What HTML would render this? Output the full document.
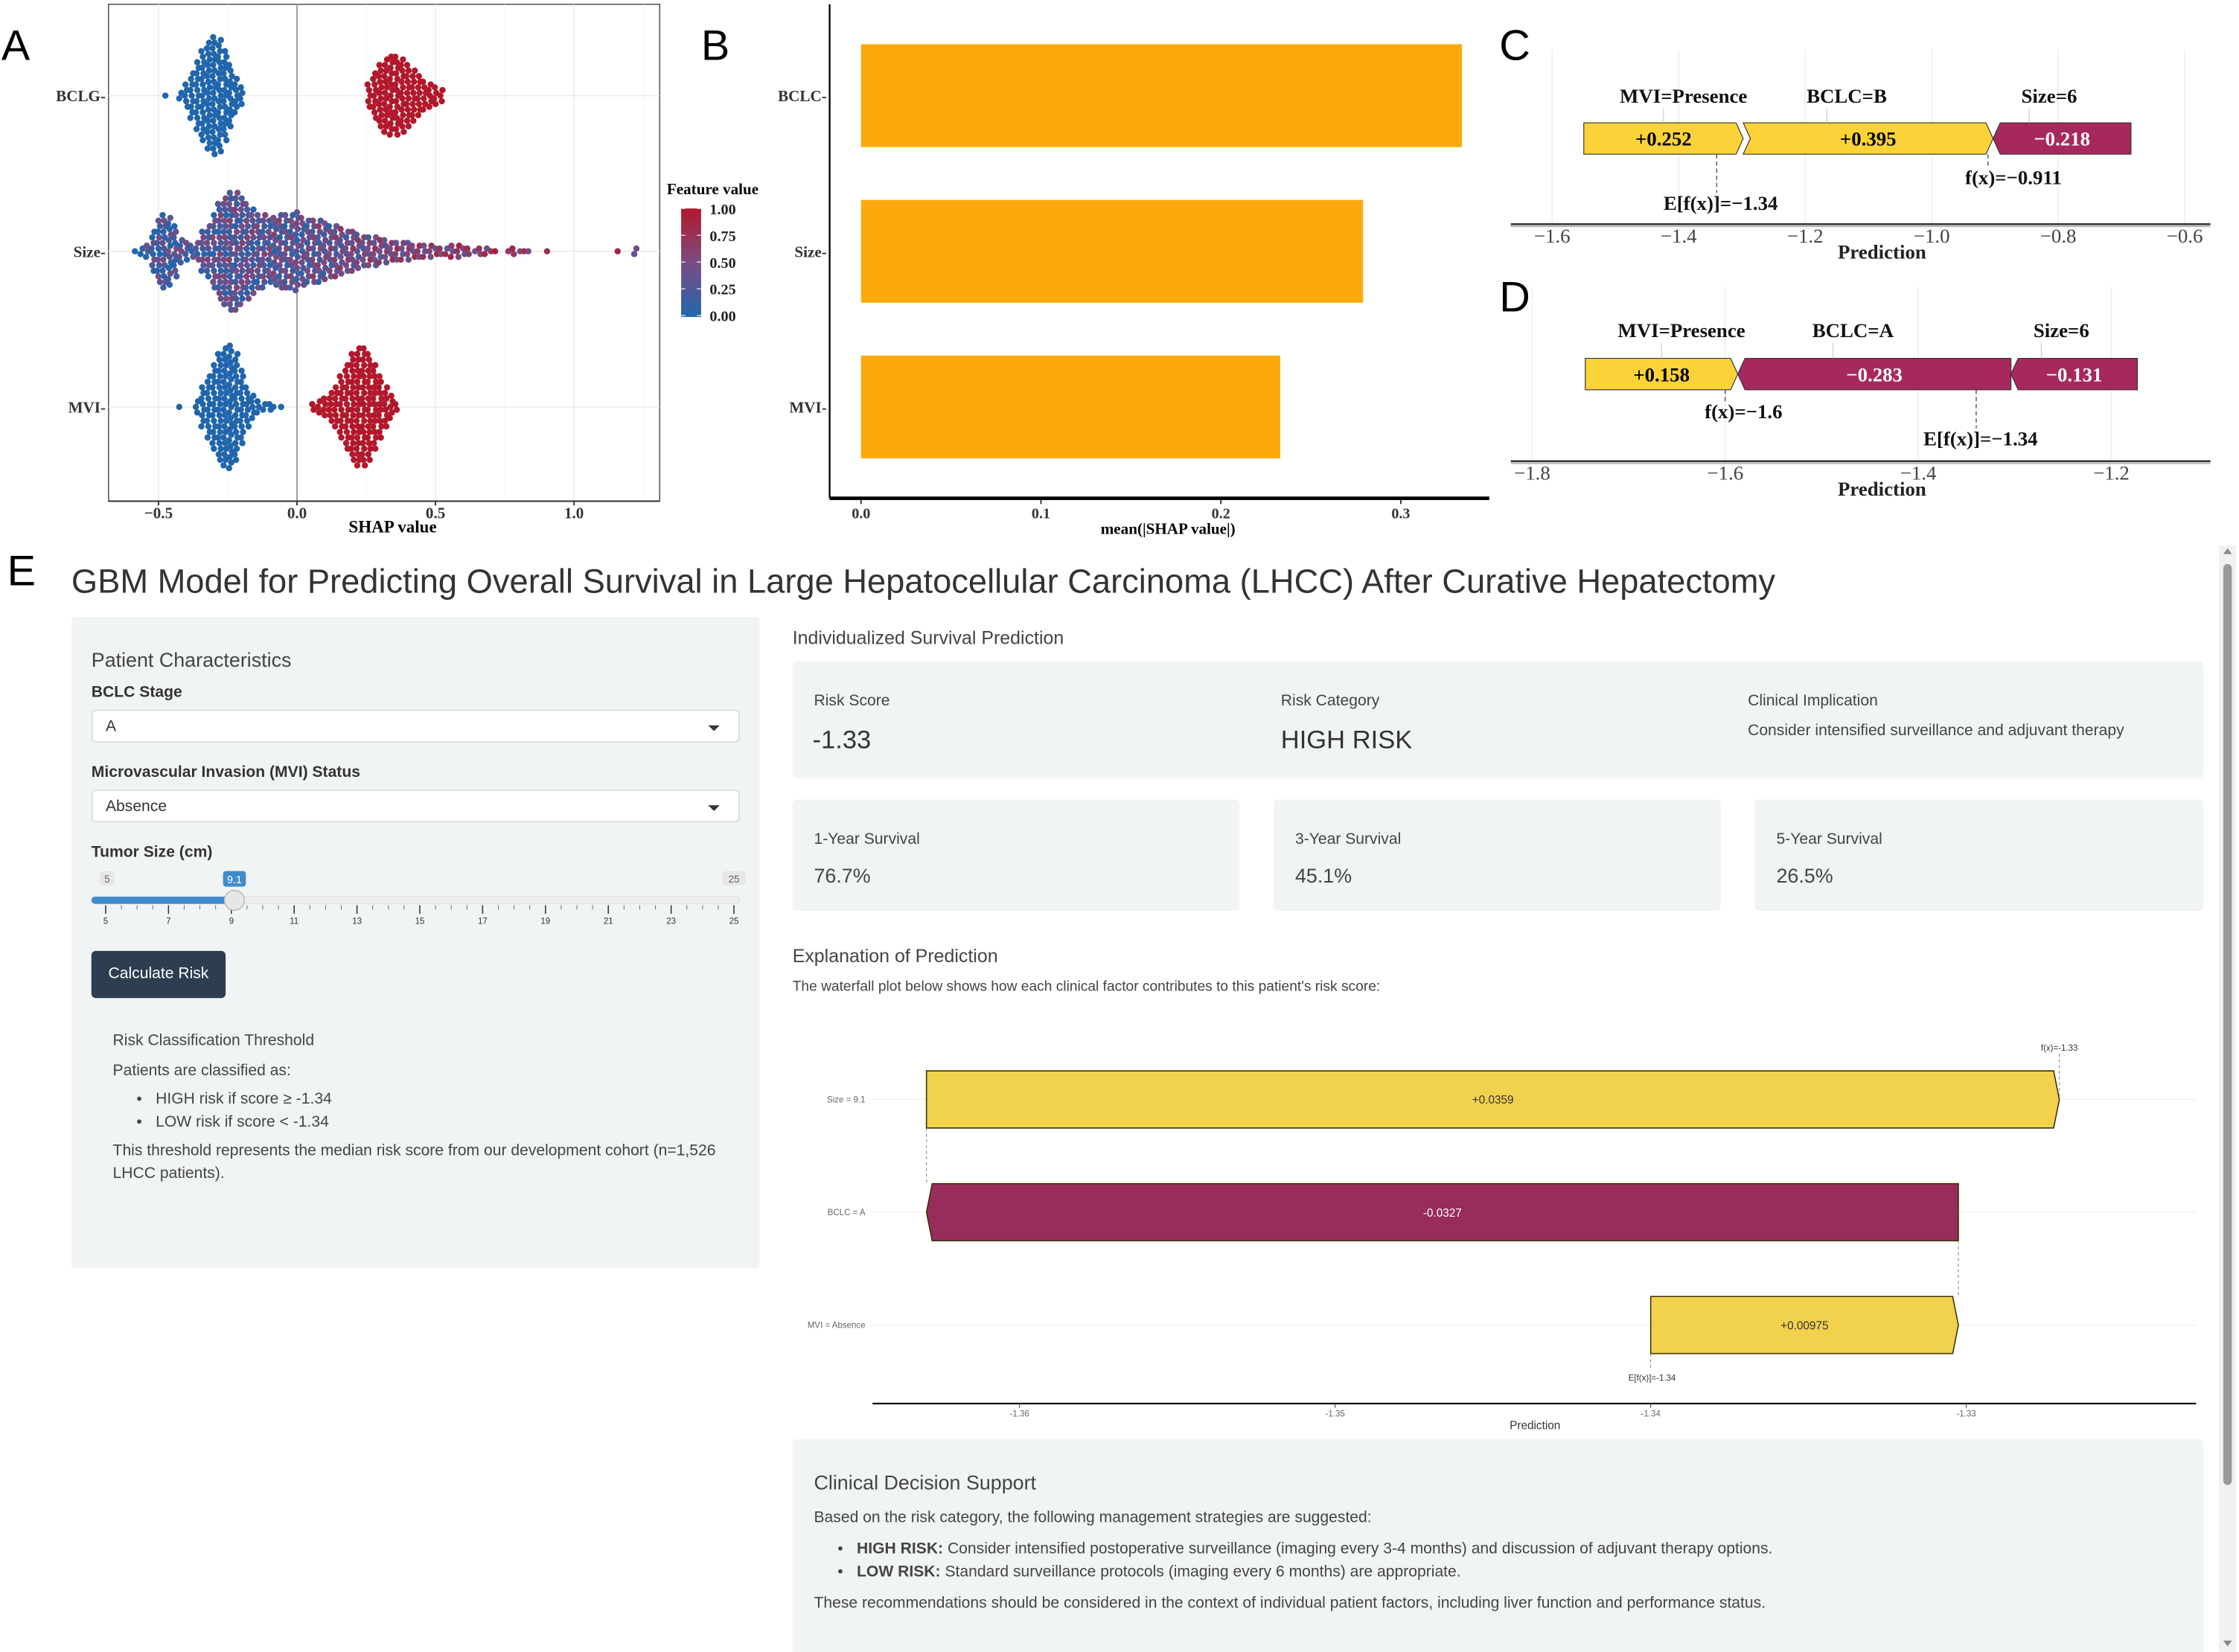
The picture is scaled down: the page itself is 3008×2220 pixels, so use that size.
<!DOCTYPE html>
<html><head><meta charset="utf-8">
<style>
html,body{margin:0;padding:0;background:#fff;}
body{width:3008px;height:2220px;overflow:hidden;position:relative;}
#root{position:absolute;left:0;top:0;width:1568px;height:1157px;transform-origin:0 0;transform:scale(1.91837,1.91876);font-family:"Liberation Sans",sans-serif;color:#333;}
.abs{position:absolute;}
.panel{background:#f1f4f5;border-radius:3px;}
.lbl{font-size:11px;color:#444;}
.sel{position:absolute;background:#fff;border:1px solid #ddd;border-radius:3px;height:23px;font-size:11px;line-height:23px;padding-left:9px;box-sizing:border-box;}
.sel:after{content:"";position:absolute;right:13px;top:10px;border-left:4px solid transparent;border-right:4px solid transparent;border-top:4px solid #333;}
.card{position:absolute;background:#f1f4f5;border-radius:3px;}
.small{font-size:11px;color:#444;}
ul{margin:4px 0;padding-left:30px;}
</style></head>
<body>
<div id="root">
<svg id="top" class="abs" style="left:0;top:0" width="1568" height="380">
  <text x="1" y="42" font-family="Liberation Sans" font-size="30" fill="#000">A</text>
  <text x="491" y="42" font-family="Liberation Sans" font-size="30" fill="#000">B</text>
  <text x="1050" y="42" font-family="Liberation Sans" font-size="30" fill="#000">C</text>
  <text x="1050" y="218" font-family="Liberation Sans" font-size="30" fill="#000">D</text>
  <g id="gA"></g>
  <g id="gB"></g>
  <g id="gC"></g>
  <g id="gD"></g>
</svg>

<div class="abs" style="left:5px;top:384px;font-size:30px;color:#000;">E</div>
<div class="abs" style="left:50px;top:395px;font-size:23.6px;color:#333;white-space:nowrap;">GBM Model for Predicting Overall Survival in Large Hepatocellular Carcinoma (LHCC) After Curative Hepatectomy</div>

<div class="abs panel" style="left:50px;top:432px;width:482px;height:456px;">
  <div class="abs" style="left:14px;top:22px;font-size:14px;color:#444;">Patient Characteristics</div>
  <div class="abs lbl" style="left:14px;top:47px;font-weight:bold;color:#333;">BCLC Stage</div>
  <div class="sel" style="left:14px;top:65px;width:454px;">A</div>
  <div class="abs lbl" style="left:14px;top:103px;font-weight:bold;color:#333;">Microvascular Invasion (MVI) Status</div>
  <div class="sel" style="left:14px;top:121px;width:454px;">Absence</div>
  <div class="abs lbl" style="left:14px;top:159px;font-weight:bold;color:#333;">Tumor Size (cm)</div>
  <svg class="abs" style="left:10px;top:170px" width="465" height="50" id="slider"></svg>
  <div class="abs" style="left:14px;top:234px;width:94px;height:33px;background:#2c3e50;border-radius:3px;color:#fff;font-size:11px;line-height:33px;text-align:center;">Calculate Risk</div>
  <div class="abs small" style="left:29px;top:289px;width:440px;line-height:16px;">
    <div style="margin-bottom:5px;">Risk Classification Threshold</div>
    <div>Patients are classified as:</div>
    <ul><li>HIGH risk if score ≥ -1.34</li><li>LOW risk if score &lt; -1.34</li></ul>
    <div>This threshold represents the median risk score from our development cohort (n=1,526 LHCC patients).</div>
  </div>
</div>

<div class="abs" style="left:555px;top:439px;font-size:13px;color:#444;">Individualized Survival Prediction</div>
<div class="card" style="left:555px;top:463px;width:988px;height:82px;">
  <div class="abs small" style="left:15px;top:22px;">Risk Score</div>
  <div class="abs" style="left:14px;top:45px;font-size:18px;color:#333;">-1.33</div>
  <div class="abs small" style="left:342px;top:22px;">Risk Category</div>
  <div class="abs" style="left:342px;top:45px;font-size:18px;color:#333;">HIGH RISK</div>
  <div class="abs small" style="left:669px;top:22px;">Clinical Implication</div>
  <div class="abs small" style="left:669px;top:43px;">Consider intensified surveillance and adjuvant therapy</div>
</div>
<div class="card" style="left:555px;top:560px;width:313px;height:78px;">
  <div class="abs small" style="left:15px;top:22px;">1-Year Survival</div><div class="abs" style="left:15px;top:45px;font-size:14px;color:#444;">76.7%</div></div>
<div class="card" style="left:892px;top:560px;width:313px;height:78px;">
  <div class="abs small" style="left:15px;top:22px;">3-Year Survival</div><div class="abs" style="left:15px;top:45px;font-size:14px;color:#444;">45.1%</div></div>
<div class="card" style="left:1229px;top:560px;width:314px;height:78px;">
  <div class="abs small" style="left:15px;top:22px;">5-Year Survival</div><div class="abs" style="left:15px;top:45px;font-size:14px;color:#444;">26.5%</div></div>
<div class="abs" style="left:555px;top:662px;font-size:13px;color:#444;">Explanation of Prediction</div>
<div class="abs small" style="left:555px;top:686px;font-size:10px;">The waterfall plot below shows how each clinical factor contributes to this patient's risk score:</div>
<svg id="wf" class="abs" style="left:0;top:0" width="1568" height="1010"></svg>

<div class="card" style="left:555px;top:1008px;width:988px;height:149px;border-radius:3px 3px 0 0;">
  <div class="abs" style="left:15px;top:22px;font-size:14px;color:#444;">Clinical Decision Support</div>
  <div class="abs small" style="left:15px;top:47px;width:960px;line-height:16px;">
    <div>Based on the risk category, the following management strategies are suggested:</div>
    <ul style="margin:6px 0;"><li><b>HIGH RISK:</b> Consider intensified postoperative surveillance (imaging every 3-4 months) and discussion of adjuvant therapy options.</li><li><b>LOW RISK:</b> Standard surveillance protocols (imaging every 6 months) are appropriate.</li></ul>
    <div>These recommendations should be considered in the context of individual patient factors, including liver function and performance status.</div>
  </div>
</div>
<div class="abs" style="left:1554px;top:382px;width:12px;height:775px;background:#f1f1f1;">
  <div class="abs" style="left:3px;top:13px;width:6px;height:645px;background:#9a9a9a;border-radius:3px;"></div>
  <div class="abs" style="left:3px;top:2px;border-left:3px solid transparent;border-right:3px solid transparent;border-bottom:4px solid #888;"></div>
  <div class="abs" style="left:3px;top:767px;border-left:3px solid transparent;border-right:3px solid transparent;border-top:4px solid #888;"></div>
</div>
</div>

<script>
// ===== Panel A data (beeswarm, binned SHAP values: bin centre -> count) =====
const aFeatures = ["BCLG","Size","MVI"];
const bclcLowBins = [-0.47,-0.42,-0.40,-0.38,-0.36,-0.34,-0.32,-0.30,-0.28,-0.26,-0.24,-0.22,-0.20];
const bclcLowCounts = [1,2,5,9,13,17,20,22,21,17,12,7,4];
const bclcHighBins = [0.26,0.28,0.30,0.32,0.34,0.36,0.38,0.40,0.42,0.44,0.46,0.48,0.50,0.52];
const bclcHighCounts = [5,9,12,14,15,15,14,12,10,8,6,5,4,3];
const sizeBins = [-0.58,-0.56,-0.54,-0.52,-0.50,-0.48,-0.46,-0.44,-0.42,-0.40,-0.38,-0.36,-0.34,-0.32,-0.30,-0.28,-0.26,-0.24,-0.22,-0.20,-0.18,-0.16,-0.14,-0.12,-0.10,-0.08,-0.06,-0.04,-0.02,0.00,0.02,0.04,0.06,0.08,0.10,0.12,0.14,0.16,0.18,0.20,0.22,0.24,0.26,0.28,0.30,0.32,0.34,0.36,0.38,0.40,0.42,0.44,0.46,0.48,0.50,0.52,0.54,0.56,0.58,0.60,0.62,0.64,0.66,0.68,0.70,0.72,0.76,0.78,0.80,0.82,0.84,0.90,1.16,1.22];
const sizeCounts = [1,2,3,8,12,14,13,10,5,4,3,4,8,10,14,18,20,22,22,20,18,16,14,14,12,13,14,14,14,15,13,12,12,12,11,10,10,9,8,8,7,6,6,6,5,5,4,4,4,4,3,3,3,3,2,2,2,3,3,2,2,1,2,2,1,1,1,2,1,1,1,1,1,2];
const sizeFeatAnchorX = [-0.6,-0.3,0.0,0.4,0.9,1.25];
const sizeFeatAnchorV = [0.12,0.3,0.32,0.55,0.75,0.55];
const mviLowBins = [-0.42,-0.36,-0.34,-0.32,-0.30,-0.28,-0.26,-0.24,-0.22,-0.20,-0.18,-0.16,-0.14,-0.12,-0.10,-0.08,-0.06];
const mviLowCounts = [1,3,8,12,16,20,22,23,20,14,8,5,3,2,2,1,1];
const mviHighBins = [0.06,0.08,0.10,0.12,0.14,0.16,0.18,0.20,0.22,0.24,0.26,0.28,0.30,0.32,0.34,0.36];
const mviHighCounts = [2,3,4,6,8,12,16,20,22,22,20,16,12,8,5,2];
const aTicks = [-0.5,0.0,0.5,1.0];
const legendTicks = [1.00,0.75,0.50,0.25,0.00];

// ===== Panel B data =====
const bFeatures = ["BCLC","Size","MVI"];
const bValues = [0.334,0.279,0.233];
const bTicks = [0.0,0.1,0.2,0.3];

// ===== Panel C / D data (force plots) =====
const cFeatures = ["MVI=Presence","BCLC=B","Size=6"];
const cValues = [0.252,0.395,-0.218];
const cStart = -1.55;
const cBase = -1.34, cFx = -0.911;
const cTicks = [-1.6,-1.4,-1.2,-1.0,-0.8,-0.6];
const dFeatures = ["MVI=Presence","BCLC=A","Size=6"];
const dValues = [0.158,-0.283,-0.131];
const dStart = -1.745;
const dBase = -1.34, dFx = -1.6;
const dTicks = [-1.8,-1.6,-1.4,-1.2];

// ===== Waterfall (panel E) data =====
const wfFeatures = ["Size = 9.1","BCLC = A","MVI = Absence"];
const wfValues = [0.0359,-0.0327,0.00975];
const wfBase = -1.34;
const wfFx = -1.33;
const wfTicks = [-1.36,-1.35,-1.34,-1.33];
const wfTickLabels = ["-1.36","-1.35","-1.34","-1.33"];
const sliderTicks = [5,7,9,11,13,15,17,19,21,23,25];
const sliderValue = 9.1;

const NS="http://www.w3.org/2000/svg";
function mk(parent,tag,attrs,text){const e=document.createElementNS(NS,tag);for(const k in attrs)e.setAttribute(k,attrs[k]);if(text!==undefined)e.textContent=text;parent.appendChild(e);return e;}
function fmtMinus(v,d){const s=Math.abs(v).toFixed(d);return (v<0?"\u2212":"")+s;}

// ---------- Panel A ----------
(function(){
  const g=document.getElementById('gA');
  const x=v=>208+v*194;
  const rowY=[67,176,285];
  mk(g,'rect',{x:76,y:3,width:386,height:348,fill:'#fff',stroke:'#555','stroke-width':0.8});
  [-0.75,-0.25,0.25,0.75,1.25].forEach(v=>{if(x(v)>76&&x(v)<462)mk(g,'line',{x1:x(v),x2:x(v),y1:3,y2:351,stroke:'#f3f3f3','stroke-width':0.5});});
  aTicks.forEach(v=>mk(g,'line',{x1:x(v),x2:x(v),y1:3,y2:351,stroke:'#ebebeb','stroke-width':0.8}));
  rowY.forEach(y=>mk(g,'line',{x1:76,x2:462,y1:y,y2:y,stroke:'#ebebeb','stroke-width':0.8}));
  mk(g,'line',{x1:x(0),x2:x(0),y1:3,y2:351,stroke:'#888','stroke-width':0.8});
  function col(t){const a=[33,102,172],b=[178,24,43];const m=[122,75,130];let c;
    if(t<0.5){const u=t/0.5;c=a.map((v,i)=>v+(m[i]-v)*u);}else{const u=(t-0.5)/0.5;c=m.map((v,i)=>v+(b[i]-v)*u);}
    return 'rgb('+c.map(Math.round).join(',')+')';}
  function featAt(v){for(let i=0;i<sizeFeatAnchorX.length-1;i++){if(v<=sizeFeatAnchorX[i+1]){const u=(v-sizeFeatAnchorX[i])/(sizeFeatAnchorX[i+1]-sizeFeatAnchorX[i]);return sizeFeatAnchorV[i]+u*(sizeFeatAnchorV[i+1]-sizeFeatAnchorV[i]);}}return 0.5;}
  function swarm(bins,counts,cy,colorFn){
    bins.forEach((b,i)=>{const n=counts[i];for(let k=0;k<n;k++){const off=(k-(n-1)/2)*3.9;const jit=((k*7+i*3)%5-2)*0.5;
      const c=mk(g,'circle',{cx:x(b)+jit,cy:cy+off,r:2.2,fill:colorFn(b,k,i)});
      
      }});
  }
  swarm(bclcLowBins,bclcLowCounts,rowY[0],()=>col(0));
  swarm(bclcHighBins,bclcHighCounts,rowY[0],()=>col(1));
  swarm(sizeBins,sizeCounts,rowY[1],(b,k,i)=>{let t=featAt(b)+(((k*5+i*3)%7)-3)*0.09;t=Math.max(0,Math.min(1,t));return col(t);});
  swarm(mviLowBins,mviLowCounts,rowY[2],()=>col(0));
  swarm(mviHighBins,mviHighCounts,rowY[2],()=>col(1));
  aFeatures.forEach((f,i)=>{const t=mk(g,'text',{x:74,y:rowY[i]+4,'text-anchor':'end','font-family':'Liberation Serif','font-weight':'bold','font-size':11,fill:'#333'},f+'-');
    });
  mk(g,'line',{x1:76,x2:462,y1:351,y2:351,stroke:'#333','stroke-width':1});
  aTicks.forEach(v=>{mk(g,'line',{x1:x(v),x2:x(v),y1:351,y2:354,stroke:'#333'});
    const t=mk(g,'text',{x:x(v),y:363,'text-anchor':'middle','font-family':'Liberation Serif','font-weight':'bold','font-size':11,fill:'#333'},fmtMinus(v,1));
    });
  const xt=mk(g,'text',{x:275,y:373,'text-anchor':'middle','font-family':'Liberation Serif','font-weight':'bold','font-size':12,fill:'#000'},'SHAP value');
  
  const defs=mk(g,'defs',{});const lg=mk(defs,'linearGradient',{id:'fv',x1:0,y1:1,x2:0,y2:0});
  [0,0.25,0.5,0.75,1].forEach(t=>mk(lg,'stop',{offset:t,'stop-color':col(t)}));
  const lt=mk(g,'text',{x:467,y:136,'font-family':'Liberation Serif','font-weight':'bold','font-size':11,fill:'#000'},'Feature value');
  
  const lb=mk(g,'rect',{x:477,y:146,width:14,height:76,fill:'url(#fv)'});
  
  legendTicks.forEach(v=>{const y=221-v*75;mk(g,'line',{x1:477,x2:480,y1:y,y2:y,stroke:'#fff','stroke-width':0.6});mk(g,'line',{x1:488,x2:491,y1:y,y2:y,stroke:'#fff','stroke-width':0.6});
    const t=mk(g,'text',{x:497,y:y+4,'font-family':'Liberation Serif','font-weight':'bold','font-size':10.5,fill:'#222'},v.toFixed(2));
    });
})();

// ---------- Panel B ----------
(function(){
  const g=document.getElementById('gB');
  const x=v=>603+v*1260;
  const rowY=[67,176,285];
  bFeatures.forEach((f,i)=>{
    const r=mk(g,'rect',{x:x(0),y:rowY[i]-36,width:x(bValues[i])-x(0),height:72,fill:'#fca90d'});
    
    const t=mk(g,'text',{x:579,y:rowY[i]+4,'text-anchor':'end','font-family':'Liberation Serif','font-weight':'bold','font-size':11,fill:'#333'},f+'-');
    
  });
  mk(g,'line',{x1:581,x2:581,y1:3,y2:349,stroke:'#000','stroke-width':1.2});
  mk(g,'line',{x1:581,x2:1043,y1:349,y2:349,stroke:'#000','stroke-width':2.5});
  bTicks.forEach(v=>{mk(g,'line',{x1:x(v),x2:x(v),y1:350,y2:353,stroke:'#333'});
    const t=mk(g,'text',{x:x(v),y:363,'text-anchor':'middle','font-family':'Liberation Serif','font-weight':'bold','font-size':10.5,fill:'#333'},v.toFixed(1));
    });
  const xt=mk(g,'text',{x:818,y:374,'text-anchor':'middle','font-family':'Liberation Serif','font-weight':'bold','font-size':11,fill:'#000'},'mean(|SHAP value|)');
  
})();

// ---------- Force plots ----------
const labelOffsets=[14,-15,-9];
function force(gid,feats,vals,start,base,fx,ticks,x,axisY,barY,labY,baseLab,fxLab){
  const g=document.getElementById(gid);
  ticks.forEach(v=>mk(g,'line',{x1:x(v),x2:x(v),y1:axisY-122,y2:axisY,stroke:'#eee','stroke-width':0.8}));
  let cur=start;const h=22,n=5;
  feats.forEach((f,i)=>{const v=vals[i];const x0=x(cur),x1=x(cur+Math.abs(v));cur+=Math.abs(v);
    const pos=v>0;const fill=pos?'#fbd338':'#a6285c';
    let pts;
    if(pos)pts=[[x0,barY],[x1-n,barY],[x1,barY+h/2],[x1-n,barY+h],[x0,barY+h],[x0+(i>0?n:0),barY+h/2]];
    else pts=[[x0+n,barY],[x1,barY],[x1,barY+h],[x0+n,barY+h],[x0,barY+h/2]];
    const p=mk(g,'polygon',{points:pts.map(q=>q.join(',')).join(' '),fill:fill,stroke:'#333','stroke-width':0.6});
    
    const cx=(x0+x1)/2;
    const t=mk(g,'text',{x:cx,y:barY+16,'text-anchor':'middle','font-family':'Liberation Serif','font-weight':'bold','font-size':14,fill:pos?'#000':'#fff'},(pos?'+':'\u2212')+Math.abs(v).toFixed(3));
    
    const lx=cx+labelOffsets[i];
    mk(g,'line',{x1:lx-14,x2:lx-14,y1:labY+4,y2:barY,stroke:'#ccc','stroke-width':0.6});
    const l=mk(g,'text',{x:lx,y:labY,'text-anchor':'middle','font-family':'Liberation Serif','font-weight':'bold','font-size':14,fill:'#111'},f);
    
  });
  mk(g,'line',{x1:x(base),x2:x(base),y1:barY+h,y2:baseLab[1]-12,stroke:'#333','stroke-width':0.6,'stroke-dasharray':'3,2'});
  mk(g,'line',{x1:x(fx),x2:x(fx),y1:barY+h,y2:fxLab[1]-12,stroke:'#333','stroke-width':0.6,'stroke-dasharray':'3,2'});
  const bt=mk(g,'text',{x:baseLab[0],y:baseLab[1],'text-anchor':'middle','font-family':'Liberation Serif','font-weight':'bold','font-size':14,fill:'#111'},'E[f(x)]='+fmtMinus(base,2));
  
  const ft=mk(g,'text',{x:fxLab[0],y:fxLab[1],'text-anchor':'middle','font-family':'Liberation Serif','font-weight':'bold','font-size':14,fill:'#111'},'f(x)='+fmtMinus(fx,fx.toString().length>4?3:1));
  
  mk(g,'line',{x1:1058,x2:1548,y1:axisY,y2:axisY,stroke:'#333','stroke-width':1.3});
  mk(g,'line',{x1:1058,x2:1548,y1:axisY+1.5,y2:axisY+1.5,stroke:'#bbb','stroke-width':1.2});
  ticks.forEach(v=>{const t=mk(g,'text',{x:x(v),y:axisY+13,'text-anchor':'middle','font-family':'Liberation Serif','font-size':14,fill:'#444'},fmtMinus(v,1));
    });
  const xt=mk(g,'text',{x:1318,y:axisY+24,'text-anchor':'middle','font-family':'Liberation Serif','font-weight':'bold','font-size':14,fill:'#222'},'Prediction');
  
}
force('gC',cFeatures,cValues,cStart,cBase,cFx,cTicks,v=>1087+(v+1.6)*443,157,86,72,[1205,147],[1410,129]);
force('gD',dFeatures,dValues,dStart,dBase,dFx,dTicks,v=>1073+(v+1.8)*676,323,251,236,[1387,312],[1221,293]);

// ---------- Slider ----------
(function(){
  const s=document.getElementById('slider');
  const x=v=>14+(v-5)*(440/20);
  mk(s,'rect',{x:x(5)-4,y:8,width:10,height:10,rx:2,fill:'#e6e6e6'});mk(s,'text',{x:x(5)+1,y:16,'text-anchor':'middle','font-size':7,fill:'#666','font-family':'Liberation Sans'},'5');
  mk(s,'rect',{x:x(25)-8,y:8,width:16,height:10,rx:2,fill:'#e6e6e6'});mk(s,'text',{x:x(25),y:16,'text-anchor':'middle','font-size':7,fill:'#666','font-family':'Liberation Sans'},'25');
  mk(s,'rect',{x:4,y:26,width:454,height:5,rx:2.5,fill:'#eee',stroke:'#ddd','stroke-width':0.5});
  mk(s,'rect',{x:4,y:26,width:x(sliderValue)-4,height:5,rx:2.5,fill:'#428bca'});
  mk(s,'rect',{x:x(sliderValue)-8,y:8,width:16,height:11,rx:2,fill:'#428bca'});
  mk(s,'text',{x:x(sliderValue),y:16.5,'text-anchor':'middle','font-size':7.5,fill:'#fff','font-family':'Liberation Sans'},sliderValue.toFixed(1));
  sliderTicks.forEach((v,i)=>{mk(s,'line',{x1:x(v),x2:x(v),y1:32,y2:38,stroke:'#333','stroke-width':0.8});
    if(i<sliderTicks.length-1)for(let k=1;k<4;k++){const xx=x(v)+k*(x(v+2)-x(v))/4;mk(s,'line',{x1:xx,x2:xx,y1:32,y2:35,stroke:'#666','stroke-width':0.5});}
    mk(s,'text',{x:x(v),y:45,'text-anchor':'middle','font-size':6,fill:'#333','font-family':'Liberation Sans'},String(v));});
  const h=mk(s,'circle',{cx:x(sliderValue),cy:28.5,r:7,fill:'#e6e6e6',stroke:'#bbb','stroke-width':0.8});
  
})();

// ---------- Waterfall ----------
(function(){
  const g=document.getElementById('wf');
  const x=v=>1156+(v+1.34)*22100;
  const rowY=[770,849,928];
  rowY.forEach(y=>mk(g,'line',{x1:611,x2:1538,y1:y,y2:y,stroke:'#eee','stroke-width':0.6}));
  let cur=wfBase;const ends=[];
  for(let i=wfValues.length-1;i>=0;i--){const s=cur,e=cur+wfValues[i];ends[i]=[s,e];cur=e;}
  const h=40;
  wfFeatures.forEach((f,i)=>{const [s,e]=ends[i];const v=wfValues[i];const y=rowY[i]-h/2;
    const x0=Math.min(x(s),x(e)),x1=Math.max(x(s),x(e));
    let pts;const n=4;
    if(v>0)pts=[[x0,y],[x1-n,y],[x1,y+h/2],[x1-n,y+h],[x0,y+h]];
    else pts=[[x0+n,y],[x1,y],[x1,y+h],[x0+n,y+h],[x0,y+h/2]];
    const p=mk(g,'polygon',{points:pts.map(q=>q.join(',')).join(' '),fill:v>0?'#f2d14c':'#982c5b',stroke:'#3a3000','stroke-width':0.8});
    
    const t=mk(g,'text',{x:(x0+x1)/2,y:rowY[i]+3,'text-anchor':'middle','font-size':8,'font-family':'Liberation Sans',fill:v>0?'#333':'#fff'},(v>0?'+':'')+v.toString());
    
    const l=mk(g,'text',{x:606,y:rowY[i]+2,'text-anchor':'end','font-size':6,'font-family':'Liberation Sans',fill:'#666'},f);
    
    if(i<wfFeatures.length-1){mk(g,'line',{x1:x(s),x2:x(s),y1:rowY[i]+h/2,y2:rowY[i+1]-h/2,stroke:'#777','stroke-width':0.5,'stroke-dasharray':'2,2'});}
  });
  mk(g,'line',{x1:x(wfBase),x2:x(wfBase),y1:rowY[2]+h/2,y2:958,stroke:'#777','stroke-width':0.5,'stroke-dasharray':'2,2'});
  mk(g,'line',{x1:x(ends[0][1]),x2:x(ends[0][1]),y1:738,y2:rowY[0],stroke:'#777','stroke-width':0.5,'stroke-dasharray':'2,2'});
  const et=mk(g,'text',{x:x(wfBase)+1,y:967,'text-anchor':'middle','font-size':6,'font-family':'Liberation Sans',fill:'#333'},'E[f(x)]=-1.34');
  
  const ft=mk(g,'text',{x:x(ends[0][1]),y:736,'text-anchor':'middle','font-size':6,'font-family':'Liberation Sans',fill:'#333'},'f(x)='+wfFx.toFixed(2));
  
  mk(g,'line',{x1:611,x2:1538,y1:983,y2:983,stroke:'#111','stroke-width':1.2});
  wfTicks.forEach((v,i)=>{mk(g,'line',{x1:x(v),x2:x(v),y1:983,y2:986,stroke:'#333','stroke-width':0.5});
    const t=mk(g,'text',{x:x(v),y:992,'text-anchor':'middle','font-size':6,'font-family':'Liberation Sans',fill:'#666'},wfTickLabels[i]);
    });
  const xt=mk(g,'text',{x:1075,y:1001,'text-anchor':'middle','font-size':8,'font-family':'Liberation Sans',fill:'#333'},'Prediction');
  
})();
</script>
</body></html>
